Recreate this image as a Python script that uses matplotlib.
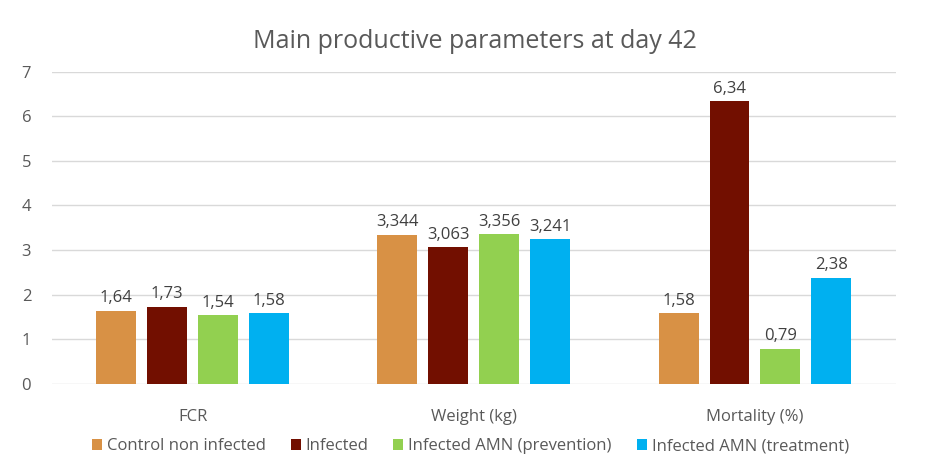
import numpy as np
import matplotlib.pyplot as plt

plt.rcParams['font.family'] = ['Open Sans', 'DejaVu Sans']

categories = ['FCR', 'Weight (kg)', 'Mortality (%)']
decimals = [2, 3, 2]
groups = ['Control non infected', 'Infected', 'Infected AMN (prevention)', 'Infected AMN (treatment)']
control = [1.64, 3.344, 1.58]
infected = [1.73, 3.063, 6.34]
prevention = [1.54, 3.356, 0.79]
treatment = [1.58, 3.241, 2.38]
colors = ['#D89145', '#720F00', '#92D050', '#00B0F0']

series = [control, infected, prevention, treatment]
text_color = '#595959'

fig = plt.figure(figsize=(9.5, 4.75), dpi=100)
ax = fig.add_axes([0.0547, 0.192, 0.888, 0.657])

x = np.arange(len(categories))
step = 0.181
for i, (vals, name, col) in enumerate(zip(series, groups, colors)):
    pos = x + (i - 1.5) * step
    ax.bar(pos, vals, 0.142, color=col, label=name, zorder=3)
    for p, v, d in zip(pos, vals, decimals):
        ax.text(p, v + 0.1, f'{v:.{d}f}'.replace('.', ','), ha='center', va='bottom',
                fontsize=12, color='#404040')

ax.set_xlim(-0.5, 2.5)
ax.set_ylim(0, 7)
ax.set_yticks(range(8))
ax.set_xticks(x)
ax.set_xticklabels(categories)
ax.tick_params(axis='both', length=0, labelsize=12, colors=text_color)
ax.tick_params(axis='x', pad=18)
ax.tick_params(axis='y', pad=15)
ax.grid(axis='y', color='#D9D9D9', linewidth=1, zorder=0)
for s in ax.spines.values():
    s.set_visible(False)

fig.suptitle('Main productive parameters at day 42', y=0.94, fontsize=18, color=text_color)
fig.legend(loc='lower center', bbox_to_anchor=(0.495, 0.012), ncol=4, frameon=False,
           fontsize=12, handlelength=0.6, handleheight=0.6, handletextpad=0.3,
           columnspacing=1.5, labelcolor=text_color)

fig.savefig('out.png', dpi=100)
